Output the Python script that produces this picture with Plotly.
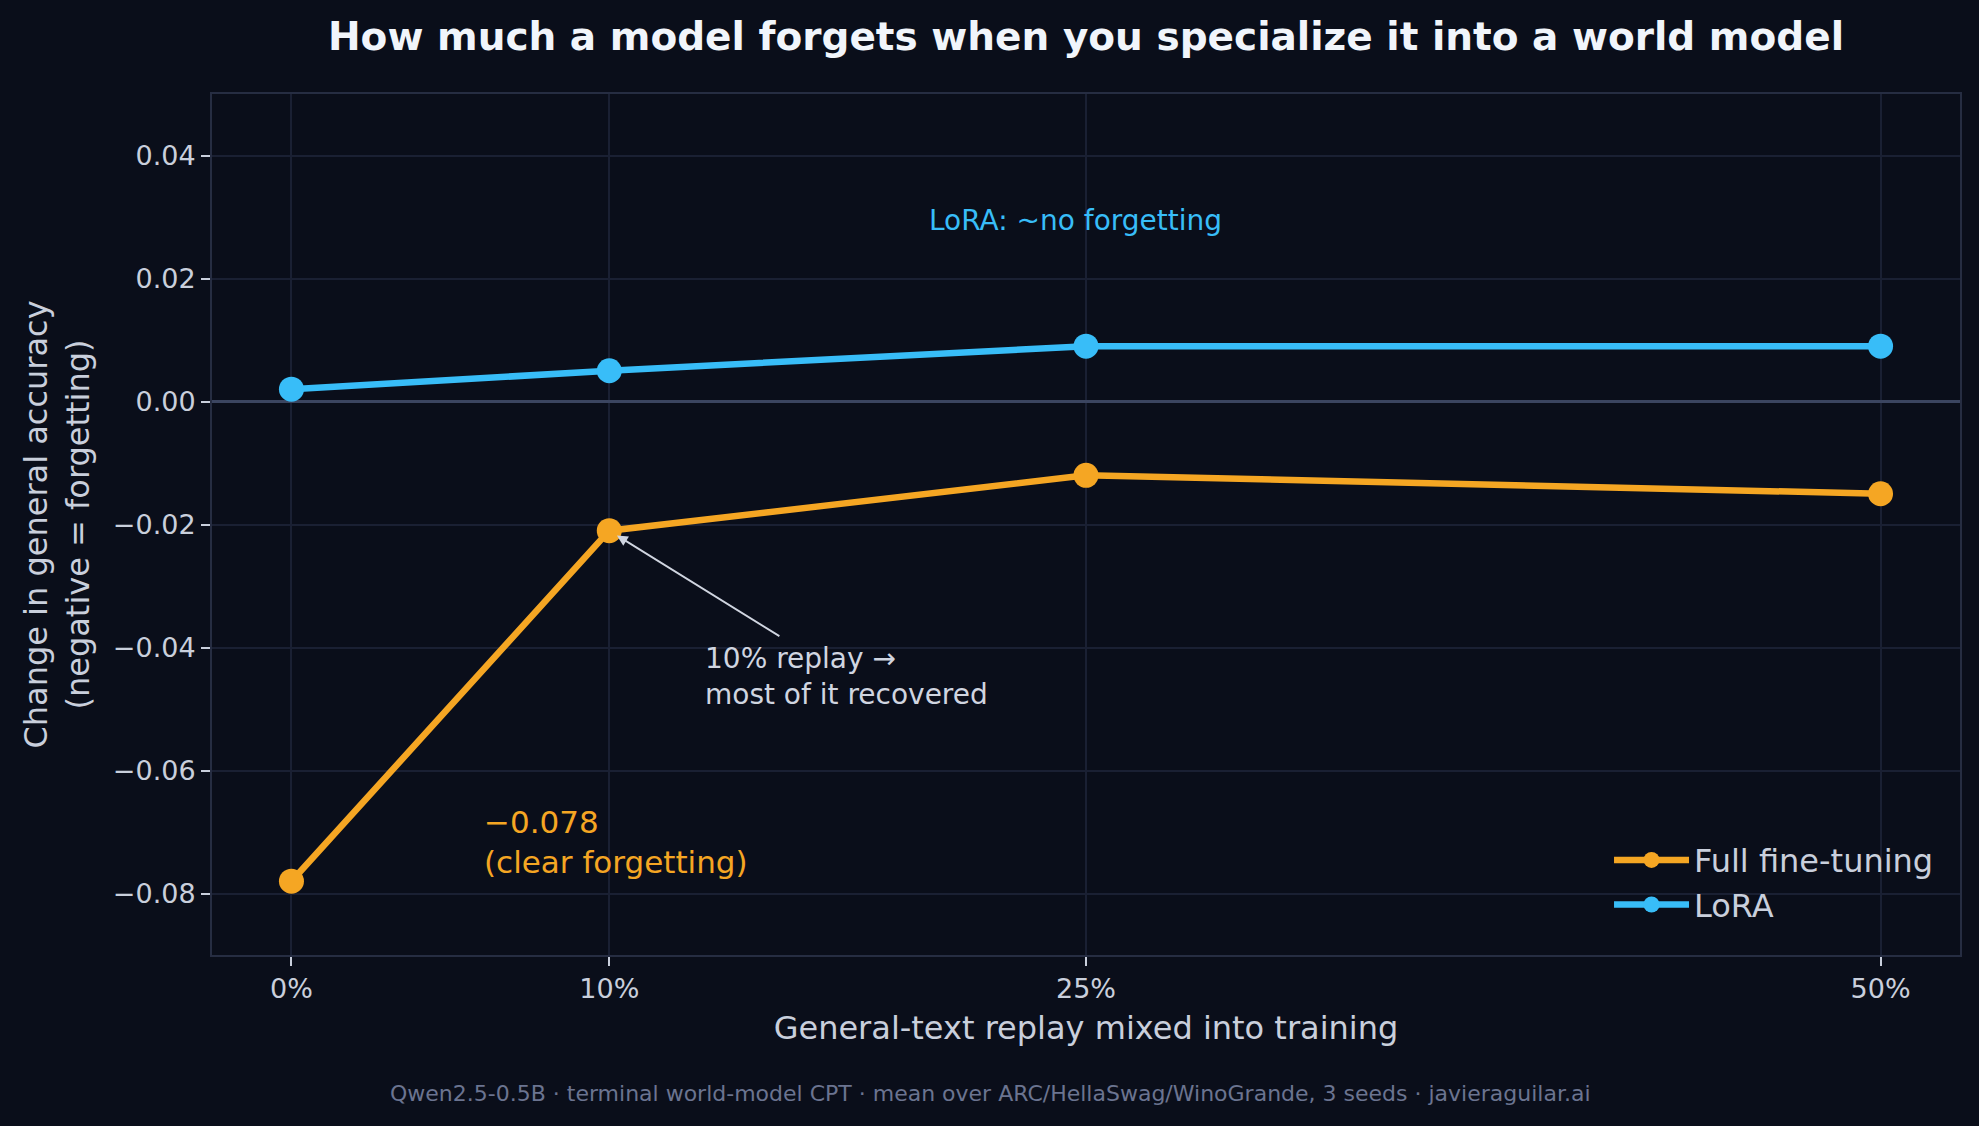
import plotly.graph_objects as go

# ---- data ----
replay_pct = [0, 10, 25, 50]
x_tick_labels = ["0%", "10%", "25%", "50%"]
full_ft = [-0.078, -0.021, -0.012, -0.015]
lora = [0.002, 0.005, 0.009, 0.009]
y_tick_vals = [-0.08, -0.06, -0.04, -0.02, 0.0, 0.02, 0.04]
y_tick_text = [("−" if v < 0 else "") + f"{abs(v):.2f}" for v in y_tick_vals]

BG = "#0a0e1a"
GRID = "#1a2033"
FRAME = "#262d42"
ZERO = "#3b4560"
TXT = "#c9cfdc"
ORANGE = "#f5a623"
BLUE = "#38bdf8"
FONT = "DejaVu Sans"

fig = go.Figure()
fig.add_trace(go.Scatter(
    x=replay_pct, y=full_ft, mode="lines+markers", name="Full fine-tuning",
    line=dict(color=ORANGE, width=6.5), marker=dict(color=ORANGE, size=25)))
fig.add_trace(go.Scatter(
    x=replay_pct, y=lora, mode="lines+markers", name="LoRA",
    line=dict(color=BLUE, width=6.5), marker=dict(color=BLUE, size=25)))

fig.update_layout(
    width=1979, height=1126,
    paper_bgcolor=BG, plot_bgcolor=BG,
    margin=dict(l=212, r=19, t=94, b=171),
    font=dict(family=FONT, color=TXT, size=27),
    title=dict(text="How much a model forgets when you specialize it into a world model",
               font=dict(family=FONT, size=39, color="#f1f5fb", weight="bold"),
               x=0.5, xref="paper", xanchor="center", y=1 - 36 / 1126, yanchor="middle"),
    showlegend=True,
    legend=dict(x=0.988, xanchor="right", y=0.026, yanchor="bottom",
                bgcolor="rgba(0,0,0,0)", font=dict(size=32, color=TXT, family=FONT),
                itemwidth=75, tracegroupgap=0),
)

fig.update_xaxes(
    range=[-2.5, 52.5], tickmode="array", tickvals=replay_pct, ticktext=x_tick_labels,
    showgrid=True, gridcolor=GRID, gridwidth=1.5, zeroline=False,
    showline=True, mirror=True, linecolor=FRAME, linewidth=2,
    ticks="outside", ticklen=9, tickwidth=1.5, tickcolor=TXT,
    tickfont=dict(size=27, color=TXT, family=FONT),
    title=dict(text="General-text replay mixed into training", standoff=13,
               font=dict(size=32, color=TXT, family=FONT)),
)
fig.update_yaxes(
    range=[-0.09, 0.05], tickmode="array", tickvals=y_tick_vals, ticktext=y_tick_text,
    showgrid=True, gridcolor=GRID, gridwidth=1.5,
    zeroline=True, zerolinecolor=ZERO, zerolinewidth=2.5,
    showline=True, mirror=True, linecolor=FRAME, linewidth=2,
    ticks="outside", ticklen=9, tickwidth=1.5, tickcolor=TXT,
    tickfont=dict(size=27, color=TXT, family=FONT),
    title=dict(text="Change in general accuracy<br>(negative = forgetting)", standoff=14,
               font=dict(size=32, color=TXT, family=FONT)),
)

# annotations
fig.add_annotation(x=20, y=0.0294, xref="x", yref="y", text="LoRA: ~no forgetting",
                   showarrow=False, xanchor="left", yanchor="middle",
                   font=dict(size=28, color=BLUE, family=FONT))
fig.add_annotation(x=6, y=-0.0716, xref="x", yref="y", text="−0.078<br>(clear forgetting)",
                   showarrow=False, xanchor="left", yanchor="middle", align="left",
                   font=dict(size=31, color=ORANGE, family=FONT))
fig.add_annotation(x=12.96, y=-0.0447, xref="x", yref="y", text="10% replay →<br>most of it recovered",
                   showarrow=False, xanchor="left", yanchor="middle", align="left",
                   font=dict(size=28, color="#d0d5e0", family=FONT))
fig.add_annotation(x=replay_pct[1], y=full_ft[1], xref="x", yref="y", text="",
                   showarrow=True, ax=15.4, ay=-0.0383, axref="x", ayref="y",
                   arrowhead=2, arrowsize=1.2, arrowwidth=1.8, arrowcolor="#d0d5e0",
                   standoff=9)
fig.add_annotation(x=(990 - 212) / 1748, y=(955 - 1093) / 861, xref="paper", yref="paper",
                   text="Qwen2.5-0.5B · terminal world-model CPT · mean over ARC/HellaSwag/WinoGrande, 3 seeds · javieraguilar.ai",
                   showarrow=False, xanchor="center", yanchor="middle",
                   font=dict(size=22, color="#6b7490", family=FONT))

fig.write_html("out.html")
